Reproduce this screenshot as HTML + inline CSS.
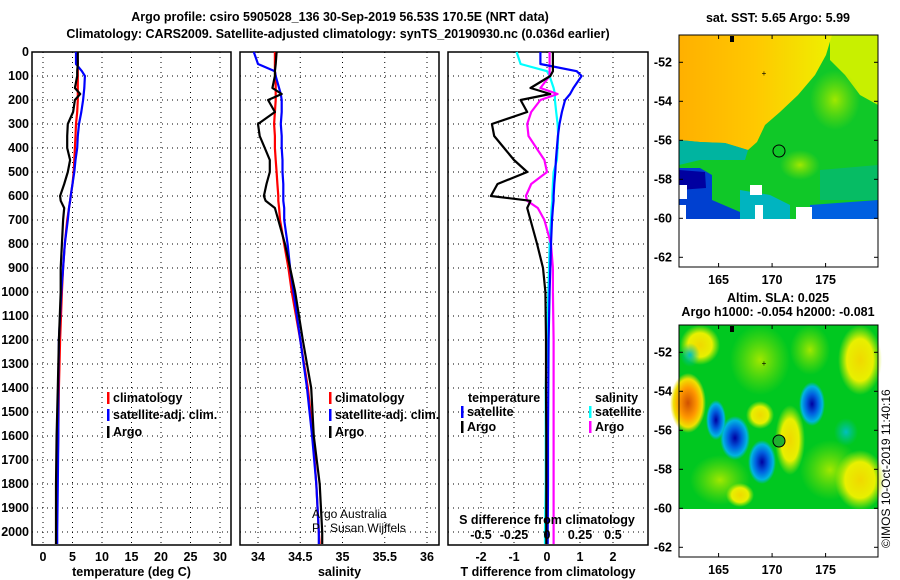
<!DOCTYPE html>
<html><head><meta charset="utf-8"><style>
html,body{margin:0;padding:0;background:#fff;}
svg{display:block;font-family:"Liberation Sans",sans-serif;}
.t{font-weight:bold;font-size:12.5px;}
</style></head><body>
<svg id="c" width="900" height="580" viewBox="0 0 900 580">
<text class="t" x="340" y="21" text-anchor="middle" font-size="13">Argo profile: csiro 5905028_136 30-Sep-2019 56.53S 170.5E (NRT data)</text>
<text class="t" x="338" y="38" text-anchor="middle" font-size="13">Climatology: CARS2009. Satellite-adjusted climatology: synTS_20190930.nc (0.036d earlier)</text>
<g id="maps">
<defs>
<linearGradient id="og" x1="0" x2="1" y1="0" y2="0"><stop offset="0" stop-color="#ffb000"/><stop offset="0.5" stop-color="#ffc800"/><stop offset="1" stop-color="#eef000"/></linearGradient>
<radialGradient id="bl"><stop offset="0" stop-color="#0000a0"/><stop offset="0.45" stop-color="#0060e0"/><stop offset="0.8" stop-color="#00b4e0"/><stop offset="1" stop-color="#00b4e0" stop-opacity="0"/></radialGradient>
<radialGradient id="or"><stop offset="0" stop-color="#d05000"/><stop offset="0.5" stop-color="#ff9800"/><stop offset="0.8" stop-color="#f0e000"/><stop offset="1" stop-color="#f0e000" stop-opacity="0"/></radialGradient>
<radialGradient id="ye"><stop offset="0" stop-color="#f0d800"/><stop offset="0.6" stop-color="#e8f000"/><stop offset="1" stop-color="#c8f000" stop-opacity="0"/></radialGradient>
<radialGradient id="lg"><stop offset="0" stop-color="#a0e800"/><stop offset="1" stop-color="#80e000" stop-opacity="0"/></radialGradient>
<radialGradient id="tl"><stop offset="0" stop-color="#00c0c0"/><stop offset="1" stop-color="#00c0a0" stop-opacity="0"/></radialGradient>
</defs>
<g>
<rect x="679" y="35" width="199" height="184" fill="#10c828"/>
<polygon points="830,35 878,35 878,105 860,95 845,75 830,60" fill="#c8f000"/>
<ellipse cx="835" cy="100" rx="25" ry="30" fill="url(#lg)"/>
<ellipse cx="800" cy="165" rx="20" ry="15" fill="url(#lg)"/>
<polygon points="679,35 832,35 826,55 815,75 798,95 780,112 765,125 757,142 748,150 725,143 700,142 679,140" fill="url(#og)"/>
<polygon points="679,140 700,142 725,143 748,150 745,160 700,160 679,165" fill="#00b4a0"/>
<polygon points="820,170 878,165 878,200 820,200" fill="#00b48c" opacity="0.6"/>
<polygon points="679,168 700,168 712,175 712,200 740,212 740,219 679,219" fill="#0040d0"/>
<polygon points="679,170 705,172 706,188 679,190" fill="#0000a0"/>
<polygon points="740,190 770,195 790,205 790,219 740,219" fill="#00b4c0"/>
<polygon points="810,205 878,200 878,219 810,219" fill="#0060e0"/>
<rect x="679" y="185" width="8" height="14" fill="#fff"/>
<rect x="679" y="205" width="7" height="14" fill="#fff"/>
<rect x="750" y="185" width="12" height="10" fill="#fff"/>
<rect x="755" y="205" width="8" height="14" fill="#fff"/>
<rect x="796" y="207" width="16" height="12" fill="#fff"/>
<circle cx="779" cy="151" r="6" fill="none" stroke="#000" stroke-width="1"/>
<text x="764" y="76" font-size="8" text-anchor="middle">+</text>
<rect x="730" y="36" width="4" height="6" fill="#000"/>
<rect x="679" y="35" width="199" height="232" fill="none" stroke="#000" stroke-width="1"/>
</g>
<g>
<rect x="679" y="325" width="199" height="184" fill="#00c820"/>
<ellipse cx="760" cy="360" rx="30" ry="35" fill="url(#lg)"/>
<ellipse cx="720" cy="480" rx="30" ry="25" fill="url(#lg)"/>
<ellipse cx="830" cy="470" rx="30" ry="30" fill="url(#lg)"/>
<ellipse cx="810" cy="350" rx="20" ry="25" fill="url(#lg)"/>
<ellipse cx="860" cy="360" rx="22" ry="35" fill="url(#ye)"/>
<ellipse cx="700" cy="345" rx="20" ry="20" fill="url(#ye)"/>
<ellipse cx="860" cy="480" rx="25" ry="30" fill="url(#ye)"/>
<ellipse cx="790" cy="440" rx="15" ry="35" fill="url(#ye)"/>
<ellipse cx="760" cy="415" rx="14" ry="14" fill="url(#ye)"/>
<ellipse cx="740" cy="495" rx="14" ry="12" fill="url(#ye)"/>
<ellipse cx="688" cy="403" rx="18" ry="30" fill="url(#or)"/>
<ellipse cx="716" cy="420" rx="10" ry="20" fill="url(#bl)"/>
<ellipse cx="735" cy="438" rx="15" ry="22" fill="url(#bl)"/>
<ellipse cx="762" cy="462" rx="14" ry="22" fill="url(#bl)"/>
<ellipse cx="812" cy="404" rx="13" ry="22" fill="url(#bl)"/>
<ellipse cx="846" cy="432" rx="12" ry="14" fill="url(#tl)"/>
<ellipse cx="690" cy="355" rx="10" ry="12" fill="url(#tl)"/>
<circle cx="779" cy="441" r="6" fill="#20b030" stroke="#000" stroke-width="1"/>
<text x="764" y="366" font-size="8" text-anchor="middle">+</text>
<rect x="730" y="326" width="4" height="6" fill="#000"/>
<rect x="679" y="325" width="199" height="232" fill="none" stroke="#000" stroke-width="1"/>
</g>
<text class="t" x="778" y="22" text-anchor="middle">sat. SST: 5.65 Argo: 5.99</text>
<text class="t" x="778" y="302" text-anchor="middle">Altim. SLA: 0.025</text>
<text class="t" x="778" y="316" text-anchor="middle">Argo h1000: -0.054 h2000: -0.081</text>
<text x="890" y="548" font-size="12" transform="rotate(-90 890 548)">©IMOS 10-Oct-2019 11:40:16</text>
</g>
<g id="plots"></g>
</svg>
<script>
const depths=[0,50,80,100,150,175,200,250,300,350,400,450,500,550,600,620,650,700,800,900,1000,1200,1400,1600,1800,2000,2050];
const tempArgo=[5.9,5.9,5.8,5.8,5.4,6.3,5.4,5.1,4.2,4.1,4.1,4.6,4.2,3.6,2.9,3.0,3.6,3.4,3.2,3.0,3.0,2.7,2.5,2.3,2.2,2.2,2.2];
const tempClim=[5.8,5.9,5.9,5.9,5.9,5.9,5.9,5.8,5.6,5.5,5.4,5.3,5.2,5.0,4.7,4.6,4.4,4.1,3.7,3.4,3.2,2.9,2.7,2.6,2.4,2.3,2.2];
const tempSat=[5.6,5.6,6.6,7.1,7.0,6.9,6.8,6.5,6.1,5.9,5.8,5.5,5.3,5.0,4.7,4.6,4.4,4.2,3.7,3.4,3.1,2.7,2.6,2.6,2.5,2.4,2.4];
const salArgo=[34.22,34.21,34.2,34.2,34.17,34.28,34.12,34.2,34.0,34.02,34.08,34.14,34.14,34.1,34.07,34.09,34.2,34.24,34.32,34.38,34.44,34.53,34.63,34.66,34.73,34.76,34.76];
const salClim=[34.2,34.2,34.2,34.21,34.21,34.21,34.21,34.2,34.19,34.2,34.2,34.21,34.22,34.23,34.24,34.24,34.25,34.26,34.31,34.36,34.4,34.5,34.59,34.65,34.69,34.72,34.73];
const salSat=[33.95,34.0,34.2,34.21,34.25,34.27,34.28,34.28,34.27,34.28,34.28,34.29,34.29,34.3,34.3,34.3,34.31,34.31,34.35,34.38,34.42,34.5,34.58,34.64,34.69,34.72,34.72];
const dTArgo=[0.18,0.18,0.18,0.1,-0.5,0.1,-0.8,-0.6,-1.67,-1.6,-1.3,-1.0,-0.6,-1.5,-1.7,-0.5,-0.6,-0.5,-0.3,-0.12,-0.05,-0.03,-0.03,-0.02,-0.02,-0.02,-0.02];
const dTSat=[-0.2,-0.2,0.9,1.05,0.8,0.7,0.55,0.45,0.38,0.33,0.3,0.27,0.25,0.22,0.2,0.2,0.18,0.15,0.12,0.1,0.08,0.05,0.04,0.03,0.03,0.02,0.02];
const dSArgo=[0.02,0.02,0.02,0.02,-0.05,0.08,-0.05,-0.12,-0.15,-0.14,-0.08,-0.02,0.0,-0.12,-0.16,-0.15,-0.07,-0.02,0.03,0.045,0.045,0.05,0.05,0.05,0.05,0.05,0.05];
const dSSat=[-0.23,-0.2,0.0,0.02,0.05,0.06,0.06,0.07,0.08,0.085,0.08,0.075,0.05,0.045,0.04,0.04,0.035,0.03,0.02,0.015,0.01,0.0,-0.01,-0.01,-0.01,-0.015,-0.015];
const depthTicks=[0,100,200,300,400,500,600,700,800,900,1000,1100,1200,1300,1400,1500,1600,1700,1800,1900,2000];
const tempTicks=[0,5,10,15,20,25,30];
const salTicks=[34,34.5,35,35.5,36];
const salTickLabels=["34","34.5","35","35.5","36"];
const dTTicks=[-2,-1,0,1,2];
const dSTicks=[-0.5,-0.25,0,0.25,0.5];
const dSTickLabels=["-0.5","-0.25","0","0.25","0.5"];
const mapLatTicks=[-52,-54,-56,-58,-60,-62];
const mapLonTicks=[165,170,175];

const NS='http://www.w3.org/2000/svg';
const root=document.getElementById('plots');
function mk(tag,attrs,parent){const e=document.createElementNS(NS,tag);for(const k in attrs)e.setAttribute(k,attrs[k]);(parent||root).appendChild(e);return e;}
const yTop=52,yScale=0.24,yBottom=545;
function yD(d){return yTop+d*yScale;}
const panels=[
 {x0:32,x1:231,xf:v=>43+v*5.9,ticks:tempTicks,labels:tempTicks.map(String),title:"temperature (deg C)",name:"temperature-panel"},
 {x0:240,x1:439,xf:v=>258+(v-34)*84.5,ticks:salTicks,labels:salTickLabels,title:"salinity",name:"salinity-panel"},
 {x0:448,x1:648,xf:v=>547+v*33,ticks:dTTicks,labels:dTTicks.map(String),title:"T difference from climatology",name:"difference-panel"}
];
const xS=v=>547+v*132;
panels.forEach((p,pi)=>{
 const g=mk('g',{});
 
 
 depthTicks.forEach(d=>{
  const l=mk('line',{x1:p.x0,x2:p.x1,y1:yD(d),y2:yD(d),stroke:'#000','stroke-width':1,'stroke-dasharray':'1,4'},g);
  
  
 });
 p.ticks.forEach((t,i)=>{
  const x=p.xf(t);
  const l=mk('line',{x1:x,x2:x,y1:yTop,y2:yBottom,stroke:'#000','stroke-width':1,'stroke-dasharray':'1,4'},g);
  
  
  const tx=mk('text',{x:x,y:561,'text-anchor':'middle',class:'t'},g);
  tx.textContent=p.labels[i];
  
  
 });
 const fr=mk('rect',{x:p.x0,y:yTop,width:p.x1-p.x0,height:yBottom-yTop,fill:'none',stroke:'#000','stroke-width':1.5},g);
 
 
 const at=mk('text',{x:(p.x0+p.x1)/2,y:576,'text-anchor':'middle',class:'t'},g);
 at.textContent=p.title;
 
 
});
depthTicks.forEach(d=>{
 const t=mk('text',{x:29,y:yD(d)+4,'text-anchor':'end',class:'t'});
 t.textContent=String(d);
 
 
});
function line(vals,xf,color,name){
 const pts=depths.map((d,i)=>xf(vals[i]).toFixed(1)+','+yD(d).toFixed(1)).join(' ');
 const pl=mk('polyline',{points:pts,fill:'none',stroke:color,'stroke-width':2.2,'stroke-linejoin':'round'});
 
 
}
line(tempClim,panels[0].xf,'#ff0000','temp-climatology-line');
line(tempSat,panels[0].xf,'#0000ff','temp-satellite-line');
line(tempArgo,panels[0].xf,'#000','temp-argo-line');
line(salClim,panels[1].xf,'#ff0000','sal-climatology-line');
line(salSat,panels[1].xf,'#0000ff','sal-satellite-line');
line(salArgo,panels[1].xf,'#000','sal-argo-line');
line(dSSat,xS,'#00ffff','sdiff-satellite-line');
line(dSArgo,xS,'#ff00ff','sdiff-argo-line');
line(dTSat,panels[2].xf,'#0000ff','tdiff-satellite-line');
line(dTArgo,panels[2].xf,'#000','tdiff-argo-line');
dSTicks.forEach((t,i)=>{
 const tx=mk('text',{x:xS(t),y:539,'text-anchor':'middle',class:'t'});
 tx.textContent=dSTickLabels[i];
 
 
});
const st=mk('text',{x:547,y:524,'text-anchor':'middle',class:'t'});
st.textContent='S difference from climatology';


function legend(x,y,color,label,name){
 const r=mk('rect',{x:x,y:y-10,width:2.5,height:12,fill:color});
 
 
 const t=mk('text',{x:x+6,y:y,class:'t'});
 t.textContent=label;
 
 
}
legend(107,402,'#ff0000','climatology','legend-climatology');
legend(107,419,'#0000ff','satellite-adj. clim.','legend-satellite');
legend(107,436,'#000','Argo','legend-argo');
legend(329,402,'#ff0000','climatology','legend-climatology-2');
legend(329,419,'#0000ff','satellite-adj. clim.','legend-satellite-2');
legend(329,436,'#000','Argo','legend-argo-2');
const lt=mk('text',{x:468,y:402,class:'t'});lt.textContent='temperature';


const ls=mk('text',{x:595,y:402,class:'t'});ls.textContent='salinity';


legend(461,416,'#0000ff','satellite','legend-t-satellite');
legend(461,431,'#000','Argo','legend-t-argo');
legend(589,416,'#00ffff','satellite','legend-s-satellite');
legend(589,431,'#ff00ff','Argo','legend-s-argo');
const a1=mk('text',{x:312,y:518,'font-size':12});a1.textContent='Argo Australia';


const a2=mk('text',{x:312,y:532,'font-size':12});a2.textContent='PI: Susan Wijffels';


[[35,219,267],[325,509,557]].forEach((m,mi)=>{
 mapLatTicks.forEach(la=>{
  const y=m[0]+( -50.6-la)*19.5;
  const t=mk('text',{x:672,y:y+4,'text-anchor':'end',class:'t'});
  t.textContent=String(la);
  
  
  mk('line',{x1:679,x2:683,y1:y,y2:y,stroke:'#000'});
  mk('line',{x1:874,x2:878,y1:y,y2:y,stroke:'#000'});
 });
 mapLonTicks.forEach(lo=>{
  const x=679+(lo-161.3)*10.7;
  const t=mk('text',{x:x,y:m[2]+17,'text-anchor':'middle',class:'t'});
  t.textContent=String(lo);
  
  
  mk('line',{x1:x,x2:x,y1:m[2]-4,y2:m[2],stroke:'#000'});
  mk('line',{x1:x,x2:x,y1:m[0],y2:m[0]+4,stroke:'#000'});
 });
});
</script>
</body></html>
